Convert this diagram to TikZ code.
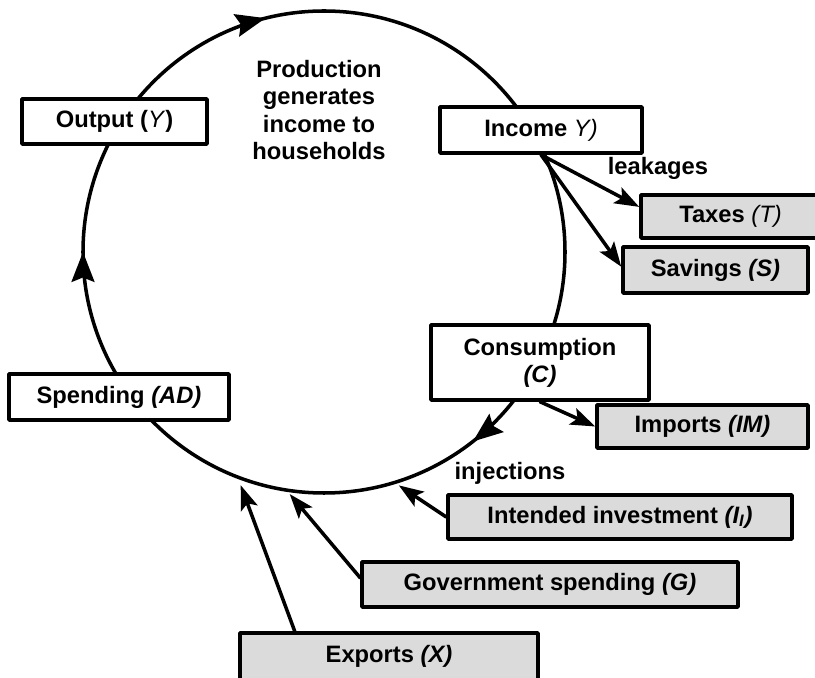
\documentclass[tikz,border=0pt]{standalone}
\usepackage{fontspec}
\setmainfont{Liberation Sans}
\usetikzlibrary{arrows.meta,decorations.markings}
\tikzset{bigtip/.tip={Stealth[length=17pt,width=13pt,inset=2.5pt]}}
\begin{document}
\begin{tikzpicture}[line cap=round,line join=round,>={Stealth[length=14pt,width=10pt,inset=3pt]},line width=2pt,
  txt/.style={font=\bfseries\fontsize{13.5}{15.5}\selectfont},
  whitebox/.style={txt,draw,fill=white,inner sep=0pt,align=center},
  greybox/.style={whitebox,fill=gray!28},
  flow/.style={postaction={decorate},decoration={markings,
    mark=at position 0.25 with {\arrow{bigtip}},
    mark=at position 0.461 with {\arrow{bigtip}},
    mark=at position 0.894 with {\arrow{bigtip}}}}]
\useasboundingbox (0,0) rectangle (16.3,13.56);
% the loop
\node[circle,minimum size=9.64cm,inner sep=0pt,outer sep=0pt] (loop) at (6.48,8.52) {};
\draw[flow] (loop.south) arc[start angle=270,end angle=-90,radius=4.82];
\node[txt,align=center] (prod) at (6.38,11.36) {Production\\generates\\income to\\households};
% boxes on the loop
\node[whitebox,minimum width=3.7cm,minimum height=0.9cm] (out) at (2.29,11.13) {Output (\textit{\mdseries Y})};
\node[whitebox,minimum width=4.04cm,minimum height=0.92cm] (inc) at (10.82,10.96) {Income \textit{\mdseries Y)}};
\node[whitebox,minimum width=4.36cm,minimum height=1.5cm] (con) at (10.8,6.31) {Consumption\\\textit{(C)}};
\node[whitebox,minimum width=4.4cm,minimum height=0.92cm] (spd) at (2.38,5.62) {Spending \textit{(AD)}};
% leakages
\node[greybox,minimum width=3.58cm,minimum height=0.86cm] (tax) at (14.61,9.23) {Taxes \textit{\mdseries (T)}};
\node[greybox,minimum width=3.7cm,minimum height=0.92cm] (sav) at (14.31,8.16) {Savings \textit{(S)}};
\node[greybox,minimum width=4.22cm,minimum height=0.86cm] (imp) at (14.05,5.03) {Imports \textit{(IM)}};
\node[txt] (leak) at (13.16,10.2) {leakages};
\draw[->] (inc.south) -- (tax.174);
\draw[->] (inc.south) -- (sav.178);
\draw[->] (con.south) -- (imp.west);
% injections
\node[greybox,minimum width=6.88cm,minimum height=0.88cm] (inv) at (12.4,3.22) {Intended investment \textit{(I\textsubscript{I})}};
\node[greybox,minimum width=7.52cm,minimum height=0.9cm] (gov) at (11.0,1.87) {Government spending \textit{(G)}};
\node[greybox,minimum width=5.96cm,minimum height=0.94cm] (exp) at (7.78,0.43) {Exports \textit{(X)}};
\node[txt] (inj) at (10.2,4.1) {injections};
\draw[->,shorten >=3pt] (inv.west) -- (loop.-73.5);
\draw[->,shorten >=3pt] (gov.178) -- (loop.-99);
\draw[->,shorten >=5pt] (exp.165) -- (loop.-111);
\end{tikzpicture}
\end{document}
